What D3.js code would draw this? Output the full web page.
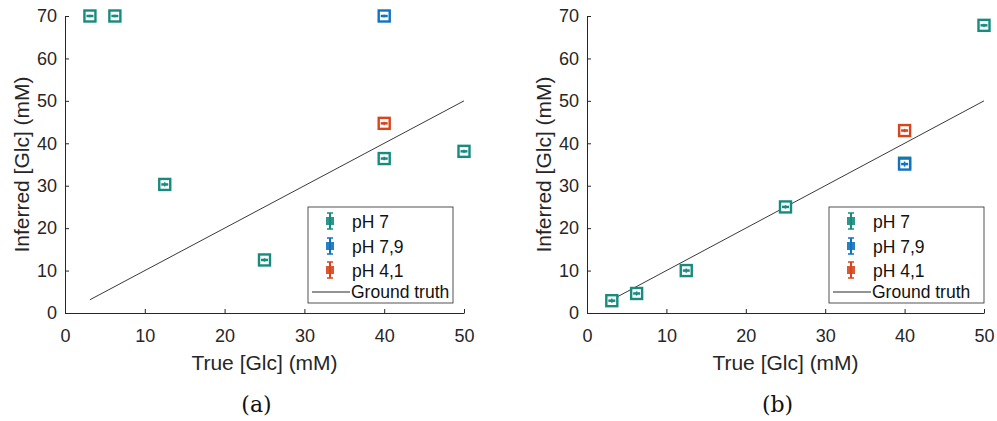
<!DOCTYPE html>
<html><head><meta charset="utf-8">
<script src="https://cdn.jsdelivr.net/npm/d3@7"></script>
<style>body{margin:0;background:#fff}</style>
</head><body>
<svg id="c" width="997" height="421"></svg>
<script>
const seriesNames = ["pH 7", "pH 7,9", "pH 4,1"];
const seriesColors = ["#168b7e", "#1172c0", "#d6451c"];
const xTicks = [0, 10, 20, 30, 40, 50];
const yTicks = [0, 10, 20, 30, 40, 50, 60, 70];
const groundTruth = [3.125, 50];
// panel (a)
const aTrue = [3.125, 6.25, 12.5, 25, 40, 50];
const aPH7 = [70, 70, 30.3, 12.5, 36.4, 38.1];
const aPH7err = [0.3, 0.3, 0.5, 0.4, 0.4, 0.4];
const aPH79x = [40], aPH79 = [70], aPH79err = [0.3];
const aPH41x = [40], aPH41 = [44.7], aPH41err = [0.4];
// panel (b)
const bTrue = [3.125, 6.25, 12.5, 25, 40, 50];
const bPH7 = [2.9, 4.6, 10.0, 25.0, 35.3, 67.8];
const bPH7err = [0.5, 0.5, 0.5, 0.4, 0.5, 0.4];
const bPH79x = [40], bPH79 = [35.1], bPH79err = [0.6];
const bPH41x = [40], bPH41 = [43.0], bPH41err = [0.4];

const svg = d3.select("#c");
const txt = "#262626";
const font = "'Liberation Sans', Arial, sans-serif";

function panel(o) {
  const x = d3.scaleLinear().domain([0, 50]).range([o.x0, o.x1]);
  const y = d3.scaleLinear().domain([0, 70]).range([313, 16]);
  const g = svg.append("g");
  const xa = g.append("g").attr("transform", `translate(0,313)`)
    .call(d3.axisBottom(x).tickValues(xTicks).tickSizeInner(-4).tickSizeOuter(0).tickPadding(16));
  const ya = g.append("g").attr("transform", `translate(${o.x0},0)`)
    .call(d3.axisLeft(y).tickValues(yTicks).tickSizeInner(-4).tickSizeOuter(0).tickPadding(8));
  [xa, ya].forEach(a => {
    a.select(".domain").attr("stroke", txt).attr("stroke-width", 1);
    a.selectAll(".tick line").attr("stroke", txt);
    a.selectAll("text").attr("fill", txt).style("font-family", font).style("font-size", "18px");
  });
  g.append("text").attr("x", (o.x0 + o.x1) / 2).attr("y", 370).attr("text-anchor", "middle")
    .attr("fill", txt).style("font-family", font).style("font-size", "21px").text("True [Glc] (mM)");
  g.append("text").attr("transform", `translate(${o.x0 - 36},${y(35)}) rotate(-90)`)
    .attr("text-anchor", "middle").attr("fill", txt).style("font-family", font).style("font-size", "21px")
    .text("Inferred [Glc] (mM)");
  g.append("text").attr("x", (o.x0 + o.x1) / 2 - 8).attr("y", 412).attr("text-anchor", "middle")
    .attr("fill", "#111").style("font-family", "'DejaVu Serif', 'Liberation Serif', serif").style("font-size", "22px")
    .text(o.caption);
  g.append("line").attr("x1", x(groundTruth[0])).attr("y1", y(groundTruth[0]))
    .attr("x2", x(groundTruth[1])).attr("y2", y(groundTruth[1])).attr("stroke", "#222").attr("stroke-width", 0.9);
  function marks(xs, ys, es, col) {
    const m = g.append("g");
    xs.forEach((xv, i) => {
      const cx = x(xv), cy = y(ys[i]);
      m.append("rect").attr("x", cx - 5.5).attr("y", cy - 5.5).attr("width", 11).attr("height", 11)
        .attr("fill", "#fff").attr("stroke", col).attr("stroke-width", 2.4);
      m.append("line").attr("x1", cx).attr("x2", cx).attr("y1", y(ys[i] + es[i])).attr("y2", y(ys[i] - es[i]))
        .attr("stroke", col).attr("stroke-width", 1.5);
      m.append("line").attr("x1", cx - 3.5).attr("x2", cx + 3.5).attr("y1", cy).attr("y2", cy)
        .attr("stroke", col).attr("stroke-width", 2.5);
    });
  }
  marks(o.s7x, o.s7, o.s7e, seriesColors[0]);
  marks(o.s79x, o.s79, o.s79e, seriesColors[1]);
  marks(o.s41x, o.s41, o.s41e, seriesColors[2]);
  const lg = g.append("g");
  lg.append("rect").attr("x", o.lx).attr("y", 207).attr("width", o.lw).attr("height", 96)
    .attr("fill", "#fff").attr("stroke", "#262626").attr("stroke-width", 0.8);
  const rows = [221, 246, 270];
  seriesNames.forEach((n, i) => {
    const sx = o.lx + 22, sy = rows[i];
    lg.append("line").attr("x1", sx).attr("x2", sx).attr("y1", sy - 8).attr("y2", sy + 8)
      .attr("stroke", seriesColors[i]).attr("stroke-width", 2);
    [sy - 8, sy + 8].forEach(cy => lg.append("line").attr("x1", sx - 3).attr("x2", sx + 3)
      .attr("y1", cy).attr("y2", cy).attr("stroke", seriesColors[i]).attr("stroke-width", 1.5));
    lg.append("rect").attr("x", sx - 3.5).attr("y", sy - 3.5).attr("width", 7).attr("height", 7)
      .attr("fill", seriesColors[i]).attr("stroke", seriesColors[i]).attr("stroke-width", 1).attr("opacity", 0.9);
    lg.append("text").attr("x", o.lx + 44).attr("y", sy + 7).attr("fill", "#111")
      .style("font-family", font).style("font-size", "17.5px").text(n);
  });
  lg.append("line").attr("x1", o.lx + 4).attr("x2", o.lx + 42).attr("y1", 292).attr("y2", 292)
    .attr("stroke", "#111").attr("stroke-width", 0.9);
  lg.append("text").attr("x", o.lx + 43).attr("y", 298).attr("fill", "#111")
    .style("font-family", font).style("font-size", "17.5px").text("Ground truth");
}

panel({x0: 65, x1: 464, caption: "(a)", lx: 308, lw: 145,
  s7x: aTrue, s7: aPH7, s7e: aPH7err, s79x: aPH79x, s79: aPH79, s79e: aPH79err, s41x: aPH41x, s41: aPH41, s41e: aPH41err});
panel({x0: 587, x1: 984, caption: "(b)", lx: 829, lw: 155,
  s7x: bTrue, s7: bPH7, s7e: bPH7err, s79x: bPH79x, s79: bPH79, s79e: bPH79err, s41x: bPH41x, s41: bPH41, s41e: bPH41err});
</script>
</body></html>
